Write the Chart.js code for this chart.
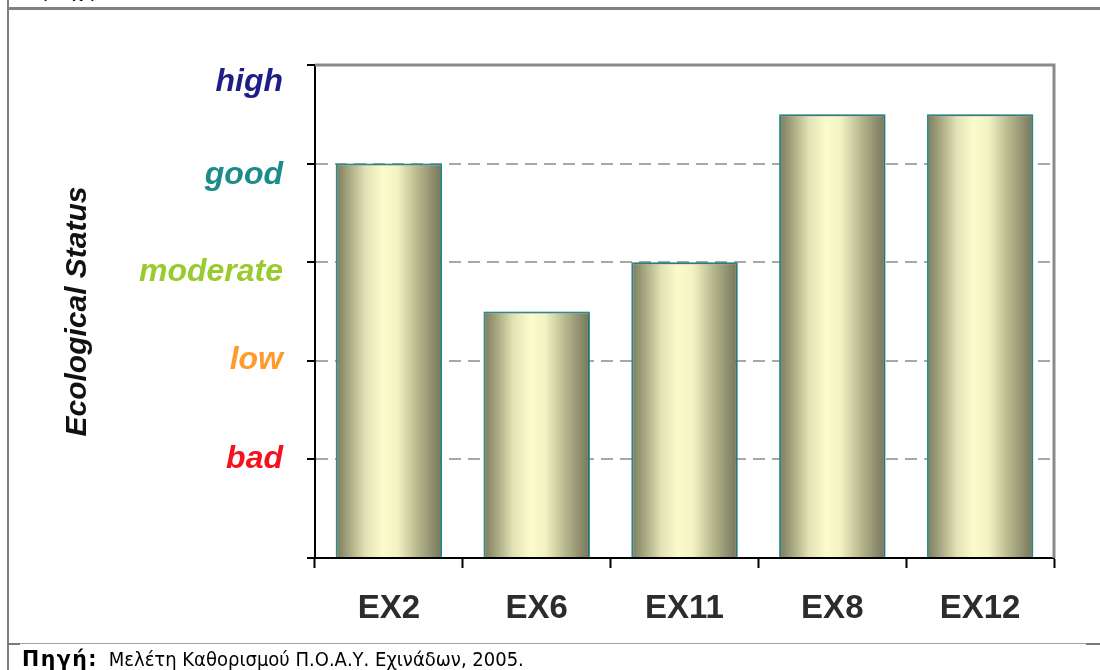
<!DOCTYPE html>
<html>
<head>
<meta charset="utf-8">
<title>Ecological Status</title>
<script src="https://cdn.jsdelivr.net/npm/chart.js@4/dist/chart.umd.min.js"></script>
<style>
  html, body { margin: 0; padding: 0; background: #fff; }
  body { width: 1100px; height: 670px; overflow: hidden; position: relative; }
  #chartBox { position: absolute; left: 0; top: 0; width: 1100px; height: 670px; }
  .rule-v { position: absolute; left: 7px; top: 0; width: 2px; height: 670px; background: #7f7f7f; }
  .rule-top { position: absolute; left: 7px; top: 7px; width: 1093px; height: 3px; background: #808080; }
  .rule-bottom { position: absolute; left: 7px; top: 643px; width: 1093px; height: 1px; background: #a3a3a3; }
  .rule-bottom-end { position: absolute; top: 643px; height: 2px; background: #7a7a7a; }
  .txt { position: absolute; left: 22px; font-family: "DejaVu Sans Condensed", "DejaVu Sans", sans-serif;
         font-size: 20px; line-height: 20px; color: #000; white-space: nowrap; }
  .prev { top: -20px; font-size: 20.5px; }
  .source { top: 649px; }
  .source b { font-family: "DejaVu Sans", sans-serif; font-size: 20.5px; font-weight: bold; letter-spacing: 1.5px; margin-right: 5px; }
</style>
</head>
<body>
<div class="txt prev">περιοχή</div>
<div class="rule-v"></div>
<div class="rule-top"></div>
<div id="chartBox"><canvas id="chart" width="1100" height="670"></canvas></div>
<div class="rule-bottom"></div>
<div class="rule-bottom-end" style="left:7px;width:13px"></div>
<div class="rule-bottom-end" style="left:1086px;width:14px"></div>
<div class="txt source"><b>Πηγή:</b> Μελέτη Καθορισμού Π.Ο.Α.Υ. Εχινάδων, 2005.</div>

<script>
// Sampling stations and their ecological status class (1 = bad ... 5 = high)
const stations = ['EX2', 'EX6', 'EX11', 'EX8', 'EX12'];
const statusValues = [4, 2.5, 3, 4.5, 4.5];
const statusLabels = ['', 'bad', 'low', 'moderate', 'good', 'high'];

// Colour of each status class label
const statusColors = ['#000000', '#f7101e', '#ff9a2c', '#9acb2e', '#1d8b8b', '#1e1e88'];
// Small vertical shifts of the class labels relative to their tick
const labelShift = { 1: 0, 2: -1, 3: 10, 4: 12, 5: 17 };

const AXIS_FONT = 'Arial, "Liberation Sans", sans-serif';
const BAR_FRACTION = 0.72;
const FLAT_FILL = '#eeeebf';

// Cylinder-like shading across each bar
function barGradient(ctx) {
  const chart = ctx.chart;
  const xs = chart.scales && chart.scales.x;
  if (!xs || ctx.dataIndex === undefined) return FLAT_FILL;
  const cx = xs.getPixelForValue(ctx.dataIndex);
  const half = (xs.width / stations.length) * BAR_FRACTION / 2;
  if (!isFinite(cx) || !isFinite(half) || half <= 0) return FLAT_FILL;
  const g = chart.ctx.createLinearGradient(cx - half, 0, cx + half, 0);
  g.addColorStop(0.00, '#7b7b5f');
  g.addColorStop(0.12, '#a5a580');
  g.addColorStop(0.28, '#e2e2b6');
  g.addColorStop(0.44, '#fbfbcb');
  g.addColorStop(0.58, '#f2f2c3');
  g.addColorStop(0.78, '#b4b48c');
  g.addColorStop(1.00, '#74745a');
  return g;
}

// Solid grey frame along the top and right of the plot area
const plotFrame = {
  id: 'plotFrame',
  afterDatasetsDraw(chart) {
    const { ctx, chartArea: a } = chart;
    ctx.save();
    ctx.strokeStyle = '#8a8a8a';
    ctx.lineWidth = 3;
    ctx.beginPath();
    ctx.moveTo(a.left, a.top);
    ctx.lineTo(a.right, a.top);
    ctx.lineTo(a.right, a.bottom);
    ctx.stroke();
    ctx.restore();
  }
};

// Nudge the status labels vertically
const labelNudge = {
  id: 'labelNudge',
  beforeDraw(chart) {
    const ys = chart.scales.y;
    const items = ys.getLabelItems();
    items.forEach((it, i) => {
      if (it._shifted) return;
      const v = ys.ticks[i] ? ys.ticks[i].value : null;
      if (v !== null && labelShift[v] !== undefined) it.options.translation[1] += labelShift[v];
      it._shifted = true;
    });
  }
};

// Soft shadow behind the bars
const barShadow = {
  id: 'barShadow',
  beforeDatasetsDraw(chart) {
    const ctx = chart.ctx;
    ctx.save();
    ctx.shadowColor = 'rgba(0,0,0,0.25)';
    ctx.shadowBlur = 3;
    ctx.shadowOffsetX = 1;
    ctx.shadowOffsetY = 0;
  },
  afterDatasetsDraw(chart) {
    chart.ctx.restore();
  }
};

new Chart(document.getElementById('chart'), {
  type: 'bar',
  data: {
    labels: stations,
    datasets: [{
      data: statusValues,
      backgroundColor: barGradient,
      borderColor: '#2e8d8a',
      borderWidth: 2,
      borderSkipped: 'bottom',
      barPercentage: BAR_FRACTION,
      categoryPercentage: 1.0
    }]
  },
  options: {
    responsive: false,
    animation: false,
    devicePixelRatio: 1,
    layout: { padding: { top: 65, right: 46, bottom: 0, left: 0 } },
    plugins: {
      legend: { display: false },
      tooltip: { enabled: false },
      title: { display: false }
    },
    scales: {
      x: {
        grid: {
          display: true,
          offset: true,
          drawOnChartArea: false,
          drawTicks: true,
          tickLength: 10,
          tickWidth: 2,
          tickColor: '#000000'
        },
        border: { display: true, color: '#000000', width: 2 },
        ticks: {
          color: '#2c2c2c',
          padding: 21,
          font: { family: AXIS_FONT, size: 33, weight: 'bold' }
        },
        afterFit(scale) { scale.height = 112; }
      },
      y: {
        min: 0,
        max: 5,
        ticks: {
          stepSize: 1,
          padding: 24,
          callback: (v) => statusLabels[v] || '',
          color: (c) => statusColors[c.tick ? c.tick.value : 0] || '#000',
          font: { family: AXIS_FONT, size: 32, weight: 'bold', style: 'italic' }
        },
        grid: {
          color: (c) => (c.tick && c.tick.value > 0 && c.tick.value < 5) ? '#a8a8a8' : 'rgba(0,0,0,0)',
          lineWidth: 2,
          drawTicks: true,
          tickLength: 8,
          tickWidth: 2,
          tickColor: '#000000'
        },
        border: { display: true, color: '#000000', width: 2, dash: [12, 7] },
        title: {
          display: true,
          text: 'Ecological Status',
          color: '#111111',
          font: { family: AXIS_FONT, size: 30, weight: 'bold', style: 'italic' },
          padding: { top: 60, bottom: 0 }
        },
        afterFit(scale) { scale.width = 315; }
      }
    }
  },
  plugins: [barShadow, plotFrame, labelNudge]
});
</script>
</body>
</html>
